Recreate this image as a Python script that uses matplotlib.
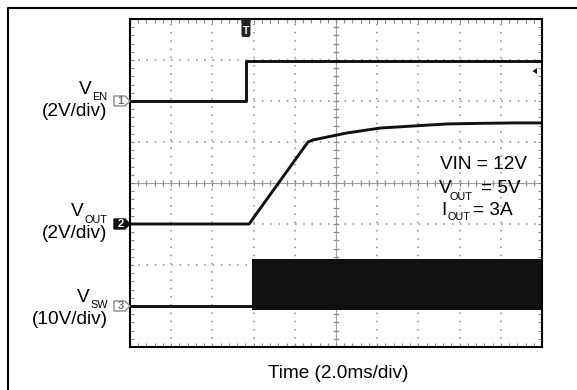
"""Scope capture: start-up waveforms (VEN, VOUT, VSW)."""
import numpy as np
import matplotlib
matplotlib.use("Agg")
import matplotlib.pyplot as plt
import matplotlib.transforms as mtransforms
from matplotlib.patches import Polygon
from matplotlib.lines import Line2D

plt.rcParams.update({"font.family": ["Liberation Sans", "DejaVu Sans"]})

W, H = 577, 390
FS, FS_SUB = 13.7, 7.8

# screen: 10 x 8 divisions at 2.0 ms/div
T_DIV = 2.0
N_XDIV, N_YDIV = 10, 8

# channel ground position (div from bottom) and volts/div
CH_POS = {1: 6.0, 2: 3.0, 3: 1.0}
CH_SCALE = {1: 2.0, 2: 2.0, 3: 10.0}

# traces: time in ms, volts
ven_t = [0.0, 5.63, 5.63, 20.0]
ven_v = [0.0, 0.0, 1.95, 1.95]

vout_t = [0.0, 5.78, 8.64, 8.88, 10.53, 12.14, 13.74, 15.39, 16.99, 18.59, 20.0]
vout_v = [0.0, 0.0, 4.00, 4.10, 4.44, 4.68, 4.78, 4.88, 4.91, 4.93, 4.93]

vsw_t = [0.0, 5.92]
vsw_v = [0.0, 0.0]
vsw_on = 5.92
vsw_hi, vsw_lo = 11.5, -1.0

trig_t = 5.63
trig_level = 1.46  # ch1 volts


def to_div(ch, v):
    return CH_POS[ch] + np.asarray(v, dtype=float) / CH_SCALE[ch]


def px(x, y):
    return x / W, 1 - y / H


fig = plt.figure(figsize=(W / 100, H / 100), dpi=100)
ax = fig.add_axes([130 / W, 1 - 347 / H, 412 / W, 328 / H])
xmax = T_DIV * N_XDIV
ax.set_xlim(0, xmax)
ax.set_ylim(0, N_YDIV)

# ---- graticule ----
grid_kw = dict(color="#8c8c8c", lw=1.1, ls=(0, (1, 4.4)), zorder=1)
for i in range(1, N_XDIV):
    if i != N_XDIV // 2:
        ax.axvline(i * T_DIV, **grid_kw)
for j in range(1, N_YDIV):
    if j != N_YDIV // 2:
        ax.axhline(j, **grid_kw)
ax.axvline(xmax / 2, color="#a0a0a0", lw=0.8, zorder=1)
ax.axhline(N_YDIV / 2, color="#a0a0a0", lw=0.8, zorder=1)
mx = np.arange(T_DIV / 5, xmax, T_DIV / 5)
my = np.arange(0.2, N_YDIV, 0.2)
ax.plot(mx, np.full(len(mx), N_YDIV / 2), ls="none", marker="|", ms=5,
        mew=0.9, color="#909090", zorder=1)
ax.plot(np.full(len(my), xmax / 2), my, ls="none", marker="_", ms=5,
        mew=0.9, color="#909090", zorder=1)

ax.set_xticks(np.arange(0, xmax + 0.1, T_DIV))
ax.set_xticks(mx, minor=True)
ax.set_yticks(np.arange(0, N_YDIV + 0.1, 1))
ax.set_yticks(my, minor=True)
ax.tick_params(which="both", direction="in", top=True, right=True,
               labelbottom=False, labelleft=False, color="#888888",
               length=3, width=0.8)
for s in ax.spines.values():
    s.set_linewidth(1.5)
    s.set_zorder(5)

# ---- traces ----
ax.plot(ven_t, to_div(1, ven_v), color="#111111", lw=2.1, zorder=3)
ax.plot(vout_t, to_div(2, vout_v), color="#111111", lw=2.1, zorder=3)
ax.plot(vsw_t, to_div(3, vsw_v), color="#111111", lw=2.1, zorder=3)
ax.fill_between([vsw_on, xmax], to_div(3, vsw_lo), to_div(3, vsw_hi),
                color="#111111", lw=0, zorder=3)


# ---- scope markers ----
def anchored(x, y):
    return mtransforms.Affine2D() + mtransforms.ScaledTranslation(x, y, ax.transData)


for ch in (1, 2, 3):
    tr = anchored(0, CH_POS[ch])
    filled = ch == 2
    pent = [(-16, -5), (-5, -5), (0, 0), (-5, 5), (-16, 5)]
    ax.add_patch(Polygon(pent, closed=True, transform=tr, clip_on=False,
                         fc="#111111" if filled else "white",
                         ec="#111111" if filled else "#8a8a8a", lw=1.0, zorder=6))
    ax.text(-9.5, -0.3, str(ch), transform=tr, ha="center", va="center",
            fontsize=8, fontweight="bold", clip_on=False, zorder=7,
            color="white" if filled else "#707070")

tr = anchored(trig_t, N_YDIV)
tmark = [(-5, 0), (5, 0), (4.5, -4), (4.5, -16), (3.5, -18), (-3.5, -18),
         (-4.5, -16), (-4.5, -4)]
ax.add_patch(Polygon(tmark, closed=True, transform=tr, clip_on=False,
                     fc="#222222", ec="none", zorder=6))
ax.text(0, -11.5, "T", transform=tr, ha="center", va="center", fontsize=7.5,
        fontweight="bold", color="white", clip_on=False, zorder=7)

tr = anchored(xmax, to_div(1, trig_level))
ax.add_patch(Polygon([(-9.5, 0), (-5, 3), (-5, -3)], closed=True, transform=tr,
                     clip_on=False, fc="#111111", ec="none", zorder=6))

# ---- outer frame ----
fig.add_artist(Line2D([7.5 / W, 7.5 / W, 1.05], [-0.05, 1 - 7.5 / H, 1 - 7.5 / H],
                      transform=fig.transFigure, color="black", lw=1.5))

# ---- labels ----
left_labels = [
    ("EN", 94, 100, 116, "(2V/div)", 92),
    ("OUT", 216, 223, 238, "(2V/div)", 84),
    ("SW", 302, 308, 324, "(10V/div)", 90),
]
for sub, yb, ysub, ydiv, div_txt, xv in left_labels:
    fig.text(*px(xv, yb), "V", ha="right", va="baseline", fontsize=FS)
    fig.text(*px(107.5, ysub), sub, ha="right", va="baseline", fontsize=FS_SUB)
    fig.text(*px(107.5, ydiv), div_txt, ha="right", va="baseline", fontsize=FS)

fig.text(*px(440, 169), "VIN = 12V", ha="left", va="baseline", fontsize=FS)
fig.text(*px(439, 193), "V", ha="left", va="baseline", fontsize=FS)
fig.text(*px(449, 200), "OUT", ha="left", va="baseline", fontsize=FS_SUB)
fig.text(*px(481, 193), "= 5V", ha="left", va="baseline", fontsize=FS)
fig.text(*px(441, 215), "I", ha="left", va="baseline", fontsize=FS)
fig.text(*px(447, 220), "OUT", ha="left", va="baseline", fontsize=FS_SUB)
fig.text(*px(473, 215), "= 3A", ha="left", va="baseline", fontsize=FS)

fig.text(*px(338.5, 378), "Time (2.0ms/div)", ha="center", va="baseline",
         fontsize=FS)

fig.savefig("out.png", dpi=100)
